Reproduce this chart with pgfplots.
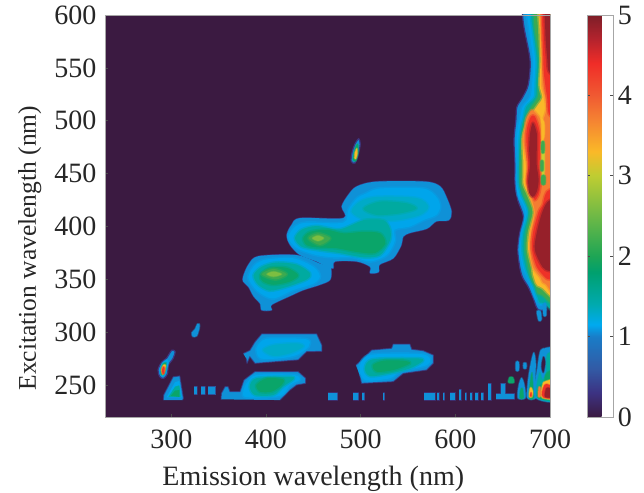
\documentclass[border=0pt]{standalone}
\usepackage{fontspec}
\setmainfont{Liberation Serif}
\usepackage{pgfplots}
\pgfplotsset{compat=1.18}
\definecolor{bg}{RGB}{59,26,65}
\definecolor{c03}{RGB}{60,55,130}
\definecolor{c08}{RGB}{15,145,215}
\definecolor{c10}{RGB}{0,165,235}
\definecolor{c13}{RGB}{0,170,200}
\definecolor{c16}{RGB}{0,170,160}
\definecolor{c19}{RGB}{10,165,105}
\definecolor{c22}{RGB}{60,170,80}
\definecolor{c26}{RGB}{125,190,65}
\definecolor{c30}{RGB}{200,205,50}
\definecolor{c33}{RGB}{250,185,40}
\definecolor{c37}{RGB}{245,125,50}
\definecolor{c43}{RGB}{238,50,40}
\definecolor{c48}{RGB}{150,32,42}
\pgfplotsset{lv/.style={draw=#1,draw opacity=0.45,line width=3pt,line join=round,fill=#1,forget plot,smooth cycle,tension=0.5,mark=none},
 lt/.style={draw=#1,draw opacity=0.45,line width=1.5pt,line join=round,fill=#1,forget plot,smooth cycle,tension=0.5,mark=none},
 lo/.style={draw=c03,line width=1.2pt,line join=round,fill=#1,forget plot,smooth cycle,tension=0.5,mark=none},
 lf/.style={draw=none,fill=#1,forget plot,smooth cycle,tension=0.5,mark=none},
 ls/.style={draw=c03,draw opacity=0.7,line width=1pt,line join=round,fill=#1,forget plot,mark=none},
 lp/.style={draw=none,fill=#1,forget plot,mark=none}}
\newcommand\lv[2]{\addplot[lv=#1] coordinates {#2};}
\newcommand\lt[2]{\addplot[lt=#1] coordinates {#2};}
\newcommand\lo[2]{\addplot[lo=#1] coordinates {#2};}
\newcommand\lf[2]{\addplot[lf=#1] coordinates {#2};}
\newcommand\ls[2]{\addplot[ls=#1] coordinates {#2};}
\newcommand\lp[2]{\addplot[lp=#1] coordinates {#2};}
\begin{document}
\begin{tikzpicture}
\path[use as bounding box] (-105pt,-75pt) rectangle (539pt,417pt);
\begin{axis}[
 at={(0pt,0pt)},anchor=south west,scale only axis,width=445pt,height=402pt,
 xmin=230,xmax=700,ymin=220,ymax=600,
 xtick={300,400,500,600,700},ytick={250,300,350,400,450,500,550,600},
 tick align=inside,tick pos=left,major tick length=3pt,
 axis line style={draw=gray!70,line width=0.8pt},
 tick style={draw=black!70,line width=0.6pt},
 axis on top,
 axis background/.style={fill=bg},
 tick label style={font=\fontsize{28}{28}\selectfont,text=black!85,/pgf/number format/assume math mode=true},
 xlabel={Emission wavelength (nm)},ylabel={Excitation wavelength (nm)},
 xlabel style={font=\fontsize{28}{28}\selectfont,text=black!85,at={(axis description cs:0.468,0)},anchor=north,yshift=-46pt},
 ylabel style={font=\fontsize{25.5}{26}\selectfont,text=black!85,at={(axis description cs:0,0.42)},anchor=south,yshift=60pt},
 xticklabel style={yshift=-9pt},
 yticklabel style={xshift=-5pt},
 point meta min=0,point meta max=5,
 colormap={em}{rgb255(0)=(59,26,65) rgb255(3)=(60,50,130) rgb255(6)=(50,90,165) rgb255(10)=(25,125,200) rgb255(11.5)=(0,170,240) rgb255(14)=(0,170,175) rgb255(18)=(0,160,110) rgb255(20)=(30,165,85) rgb255(25)=(110,185,70) rgb255(30)=(190,205,50) rgb255(33)=(250,185,40) rgb255(37)=(245,130,50) rgb255(40)=(240,90,50) rgb255(44)=(240,45,40) rgb255(47)=(180,35,45) rgb255(50)=(125,30,40)},
 colorbar,
 colorbar shift/.style={xshift=13pt},
 colorbar style={width=26pt,ytick={0,1,2,3,4,5},tick align=inside,major tick length=3pt,
   yticklabel pos=right,axis line style={draw=gray!70,line width=0.8pt},
   tick style={draw=black!70,line width=0.6pt},
   yticklabel style={xshift=1pt},
   tick label style={font=\fontsize{28}{28}\selectfont,text=black!85,/pgf/number format/assume math mode=true}},
]
% --- right band ---
\lo{c08}{(668,640)(671,600)(673,586)(679,557)(677,534)(671,522)(665,513)(664,501)(662,482)(663,458)(663,441)(666,425)(672,409)(668,394)(666,378)(668,362)(671,352)(677,343)(682,333)(687,322)(695,322)(700,335)(720,335)(720,640)}
\lv{c10}{(673,640)(676,600)(678,586)(682,557)(681,534)(679,522)(671,513)(668,501)(666,494)(665,482)(665,458)(665,441)(666,430)(674,414)(670,394)(668,378)(671,362)(676,352)(680,343)(684,333)(690,326)(697,330)(720,340)(720,640)}
\lv{c16}{(678,640)(680,600)(682,586)(686,557)(685,534)(684,522)(675,513)(672,501)(670,494)(668,482)(667,458)(667,441)(670,430)(677,414)(672,394)(671,378)(674,362)(678,352)(683,343)(687,333)(692,328)(720,340)(720,640)}
\lv{c22}{(681,640)(683,600)(684,586)(689,557)(688,534)(687,522)(679,511)(674,501)(672,494)(670,482)(669,458)(669,441)(672,430)(679,414)(675,394)(674,378)(677,362)(680,352)(685,343)(690,336)(720,345)(720,640)}
\lv{c33}{(687,640)(688,600)(689,586)(690,557)(689,534)(692,522)(688,516)(681,507)(677,501)(674,494)(671,482)(672,458)(672,441)(677,430)(683,414)(678,394)(677,378)(681,362)(683,352)(690,343)(720,350)(720,640)}
\lv{c37}{(690,640)(691,586)(692,557)(692,534)(695,522)(696,510)(692,500)(688,504)(681,510)(675,502)(674,494)(672,482)(676,458)(675,441)(679,430)(684,414)(680,394)(679,378)(682,362)(690,352)(695,346)(720,345)(720,640)}
\lv{c43}{(693,640)(693,557)(695,534)(697,522)(700,505)(720,505)(720,640)}
\lv{c43}{(680,504)(676,494)(675,482)(677,458)(676,441)(682,430)(684,425)(688,430)(690,441)(689,458)(690,482)(688,494)(684,504)}
\lv{c43}{(700,435)(695,430)(692,420)(688,414)(682,394)(681,378)(686,362)(695,352)(700,350)(720,350)(720,435)}
\lv{c48}{(695,640)(695,586)(697,560)(700,545)(720,545)(720,640)}
\lv{c48}{(682,498)(679,488)(678,472)(679,458)(677,444)(678,432)(682,428)(686,433)(688,444)(686,458)(686,472)(686,488)}
\lv{c48}{(700,425)(692,414)(686,394)(684,378)(692,362)(700,358)(720,358)(720,425)}
\lt{c33}{(690,504)(694,498)(694,485)(691,480)(691,495)}
\lt{c30}{(691,478)(694,478)(694,445)(692,445)}
\lt{c22}{(691,480)(694,480)(694,470)(691,470)}
\lt{c22}{(690,462)(693,462)(693,453)(690,453)}
\lt{c22}{(691,448)(695,448)(695,440)(691,440)}
% tail spots
\lt{c08}{(686,320)(690,320)(691,312)(688,311)}
\lt{c08}{(693,327)(696,327)(696,316)(693,316)}
% --- outer edges of blobs 1 and 2+3, merged ---
\lo{c08}{(376,353)(381.5,364)(392,372)(432.5,373)(457,365)(468,362)(468,350)(457,345)(439.5,340)(427,335)(406,326)(406,321)(395.5,321)(394,327)(387,334)(381.5,343)(376,348)}
\lo{c08}{(422,392)(427,401.5)(436,408)(482,408)(480,419)(487,430)(496,438)(517,442.5)(568,442.5)(584,438)(591,427)(596,414)(593,406)(580,405)(570,398)(552,394)(545,390.5)(543,382.6)(534.5,370)(520,364)(519,357)(510,356)(510,362)(496,367)(473,367)(471,360.5)(464,362)(453.5,367)(436,373)(425.5,382.6)}
\lf{c08}{(376,353)(381.5,364)(392,372)(432.5,373)(457,365)(468,362)(468,350)(457,345)(439.5,340)(427,335)(406,326)(406,321)(395.5,321)(394,327)(387,334)(381.5,343)(376,348)}
\lf{c08}{(422,392)(427,401.5)(436,408)(482,408)(480,419)(487,430)(496,438)(517,442.5)(568,442.5)(584,438)(591,427)(596,414)(593,406)(580,405)(570,398)(552,394)(545,390.5)(543,382.6)(534.5,370)(520,364)(519,357)(510,356)(510,362)(496,367)(473,367)(471,360.5)(464,362)(453.5,367)(436,373)(425.5,382.6)}
% --- blob 1 ---
\lv{c10}{(381.5,353)(388.5,364)(401,369)(429,370)(450,362)(457,353)(450,346)(429,340)(408,332)(394,337)(385,345)}
\lv{c16}{(387,354)(395.5,362)(411,366)(432.5,364)(446.5,356)(443,350)(422,343)(404,339.5)(392,345)}
\lv{c19}{(394,354)(404,361)(422,361)(434,354)(425,348)(408,345)(397,348)}
\lv{c22}{(395.5,355)(408,360)(422,355)(410,350)}
\lt{c26}{(401,355)(408,357.4)(416.6,355)(408,352.7)}
% --- blob 2+3 ---
\lv{c10}{(423.7,390.5)(430.7,400)(443,403.7)(481.7,403.7)(487,415.7)(496,426.7)(506,431.4)(520.5,436)(566,436)(580,428)(584,419)(580,411)(566,406)(552,400)(536,397)(536,386)(527.5,373)(510,367)(492,371)(471,371)(453.5,373)(436,378)(427,384)}
\lv{c13}{(490.5,414)(499,423.6)(517,428)(559,427)(571.5,419)(563,411)(538,406)(506,406)}
\lv{c16}{(503,417)(520.5,423.6)(548.6,422)(559,417)(541.6,412.5)(517,411)}
\lv{c16}{(430.7,389)(437.7,397)(453.5,400.5)(478,397.4)(503,406)(524,406)(531,398)(531,387)(520.5,373)(503,371)(478,375)(453.5,378)(437.7,381)}
\lv{c19}{(439.5,389)(446.5,395)(464,397)(482,393.6)(503,395)(520.5,393.6)(526,384)(515,375)(496,376)(475,379.5)(453.5,380.4)(443,382.6)}
\lv{c22}{(445,389)(455,393.6)(468,389)(457,382.6)}
\lt{c26}{(449,389)(455,391.4)(461,389)(455,386.4)}
% --- spot 495/470 ---
\lo{c08}{(490,462)(491,470)(494,478)(498,483)(499.5,478)(498,470)(494,460)}
\lt{c19}{(492,463)(493,470)(495,476)(497,478)(497.5,470)(495,462)}
\lt{c33}{(493.5,465)(494,470)(496,474)(496.5,469)(495,464)}
% --- left spots ---
\lo{c08}{(286,264.5)(290,272)(295,275.5)(300.4,283)(304,281.8)(302,275.5)(297,269)(296,261)(292,256.5)(288,258)}
\lt{c10}{(288,264.5)(290.6,270.7)(295,274)(297,272)(295,264.5)(292,258.8)(289,259.7)}
\lt{c19}{(289,264.5)(291,270)(294.5,271.4)(294,264.5)(291.6,259.7)(289.5,260)}
\lt{c33}{(289.5,264.5)(291.6,269)(294,269)(293,263)(291,260)}
\lt{c43}{(290.2,264.5)(291.6,267.6)(293,266)(292.3,261)(291,260.6)}
\ls{c08}{(291.6,236)(292,240.8)(302,258)(309,258.8)(312.8,237.7)(312,236)}
\lp{c10}{(295,238.6)(304,253)(308.5,254)(311,238.6)}
\lp{c16}{(297,239)(304,248.7)(308.5,250)(310,239)}
\lp{c19}{(299.4,240)(304,245)(308.5,245.5)(308.5,239)}
\lt{c08}{(321.6,299.7)(325,303)(327.5,308)(329.7,308)(329.7,304)(327,296.6)(322.6,296)}
% --- blob 285 ---
\ls{c08}{(376,280)(383,283)(388.4,291)(395.5,298.5)(453.6,298.5)(459,288)(459,282)(443,281.8)(434,274)(388.4,270.7)(383,277)(380,270.7)(379,275.5)}
\lv{c10}{(390,285)(397,292.8)(408,294.4)(443,293.4)(445,286.5)(432.4,278.6)(415,275.5)(394,275.5)}
\lv{c13}{(397,283.3)(408,288)(432.4,289.6)(439.5,286.5)(425.4,280.2)(408,277.7)}
% --- blob 250 ---
\ls{c08}{(352.5,236.7)(353,242.4)(356.8,248.7)(360,248.7)(362,244)(372.6,244)(376.8,255)(388.4,262.9)(434,262.9)(442,256.6)(442,251.8)(432.4,250.3)(425.4,245.5)(416.6,237.6)(415,236)}
\lv{c10}{(376,244)(379.6,251.8)(390,259.7)(429,259.7)(436,255.6)(425.4,250.3)(415,240)(379.6,238.6)}
\lv{c16}{(383,248.7)(390,256.6)(425.4,258)(429,255.6)(418,248.7)(408,240.8)(388.4,240.8)}
\lv{c19}{(390,250.3)(400.8,256.6)(418,255.6)(416.6,250.3)(406,244)(393.7,244)}
% --- blob mid ---
\ls{c08}{(495,269)(501,273.8)(511.6,283.3)(532.7,285)(534.4,289)(552,289)(554,284)(566,282.7)(576.7,278.6)(576.7,270.7)(569.6,264.4)(545,261.2)(534.4,253.4)(501,251.8)(499,259.7)}
\lv{c10}{(499,267.5)(510,278.6)(562.6,279.5)(573,275.4)(569.6,269)(541.5,262.8)(531,256.5)(504.5,255)}
\lv{c16}{(504.5,266)(513,274.5)(559,275.4)(566,273.2)(552,266)(531,261.2)(510,258.7)}
\lv{c19}{(513,269)(524,273.2)(545,273.2)(552,270.7)(534.4,264.4)(517,262.8)}
% --- row spots ---
\ls{c08}{(324.4,241)(327.5,241)(327.5,249)(324.4,249)}
\ls{c08}{(331,241)(336,241)(336,249)(331,249)}
\ls{c08}{(339,241)(347,241)(347,249)(339,249)}
\ls{c08}{(466,236)(476,236)(476,243)(466,243)}
\ls{c08}{(492,236)(498,236)(498,243)(492,243)}
\ls{c08}{(501.5,236)(504.5,236)(504.5,243)(501.5,243)}
\ls{c08}{(523.6,236)(525.6,236)(525.6,243)(523.6,243)}
\ls{c08}{(567,236)(579,236)(579,243)(567,243)}
\ls{c08}{(581,236)(583,236)(583,243)(581,243)}
\ls{c08}{(587,236)(589,236)(589,243)(587,243)}
\ls{c08}{(594,236)(600,236)(600,243)(594,243)}
\ls{c08}{(604,236)(606,236)(606,246)(604,246)}
\ls{c08}{(610,236)(612,236)(612,243)(610,243)}
\ls{c08}{(616,236)(618,236)(618,243)(616,243)}
\ls{c08}{(621,236)(624,236)(624,243)(621,243)}
\ls{c08}{(627,236)(630,236)(630,243)(627,243)}
\ls{c08}{(634,236)(638,236)(638,252)(634,252)}
% --- noise at lower right ---
\ls{c08}{(643,237)(663,237)(663,242)(653,242)(653,252)(648,252)(648,242)(643,242)}
\lt{c19}{(656,252.5)(662,252.5)(661,257.5)(657,257.5)}
\lt{c08}{(664,264)(667,264)(667,272)(664,272)}
\lt{c08}{(672,266)(675,266)(675,271)(672,271)}
\lt{c08}{(666,238)(667,250)(670,257)(673,250)(674,238)}
\lt{c19}{(668,238)(669,246)(671,247)(672,238)}
\lt{c08}{(676,238)(677,256)(680,272)(683,281)(685,270)(684,250)(685,238)}
\lt{c19}{(678,238)(679,252)(681,262)(682,250)(683,238)}
\lt{c33}{(678,239)(678.5,246)(680,248)(682,244)(681,239)}
\lt{c43}{(679,239.5)(679.5,243)(680.5,243)(680.5,239.5)}
\lt{c08}{(685,238)(687,268)(690,283)(695,285)(700,286)(720,286)(720,238)}
\lt{bg}{(691,268)(693,277)(695,272)(693,262)}
\lt{c16}{(687,238)(689,262)(692,255)(696,262)(698,280)(720,280)(720,238)}
\lt{c19}{(688,238)(690,250)(694,252)(697,262)(720,270)(720,238)}
\lt{c33}{(692,238)(692,250)(696,254)(720,258)(720,238)}
\lt{c37}{(687.5,239.5)(688,248)(690,248)(690,239.5)}
\lt{c43}{(693,238.5)(694,250)(700,250)(720,238.5)}
\lt{c48}{(695,239)(696,247)(700,247)(705,239)}
\end{axis}
\end{tikzpicture}
\end{document}
